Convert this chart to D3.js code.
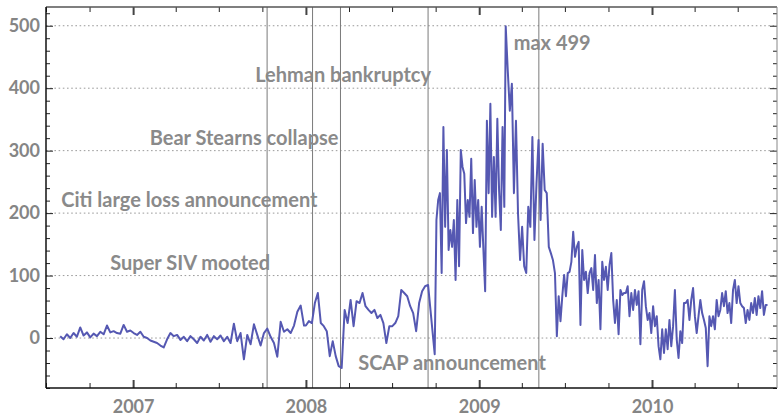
<!DOCTYPE html>
<html>
<head>
<meta charset="utf-8">
<script src="https://cdn.jsdelivr.net/npm/d3@7"></script>
<style>
  body { margin: 0; background: #fff; }
  svg text { font-family: Lato, "Open Sans", sans-serif; font-weight: bold; }
</style>
</head>
<body>
<svg id="chart"></svg>
<script>
var width = 779, height = 416;
var margin = {top: 7, right: 2, bottom: 28, left: 46};

// series, split in stretches; points are spread evenly between start and end
var segStarts = ["2006-07-31", "2008-01-01", "2008-09-29", "2009-02-26", "2009-06-14"];
var segEnds   = ["2007-12-28", "2008-09-15", "2009-02-23", "2009-06-10", "2010-09-02"];

var valsA = [3, -2, 6, 0, 8, 2, 17, 4, 9, 1, 7, 3, 10, 6, 20, 9, 11, 8, 7, 21, 10, 12,
  8, 5, 10, 2, 0, -4, -6, -8, -12, -15, -2, 8, 3, 5, -3, 2, -5, 3, -2, -8, 2, -4, 5, -6,
  3, -2, 4, -5, 2, -8, 23, -5, 8, -34, 5, -10, 22, 5, -12, 8, 15, 2, -8, -30, 26, 10,
  14, 8, 20, 42, 52, 20];
var valsB = [20, 27, 24, 56, 72, 24, 19, 11, -29, -5, -29, -45, -48, 45, 24, 61, 19, 59,
  56, 72, 51, 45, 40, 45, 32, 37, 24, -8, 19, 19, 24, 35, 77, 72, 67, 51, 40, 11, 56,
  75, 83, 85];
var valsC = [-26, 189, 221, 232, 104, 338, 178, 301, 141, 173, 146, 189, 93, 221, 115,
  301, 274, 263, 184, 221, 194, 287, 168, 253, 178, 221, 146, 210, 141, 75, 348, 232,
  375, 194, 290, 194, 351, 237, 173, 338, 210];
var valsPeak = [499, 428, 364, 407, 232, 348, 199, 125,
  178, 115, 104, 210, 178, 322, 157, 247, 317, 189, 311, 237, 232, 146, 136, 125, 104];
var valsD = [3, 67, 27, 67, 101, 67, 104, 106, 122, 170, 130, 146, 154, 21, 141, 93, 106,
  72, 104, 112, 77, 133, 56, 93, 14, 122, 93, 114, 77, 117, 136, 61, 24, 61, 6, 77, 69,
  72, 72, 83, 35, 72, 45, 77, 53, 75, -10, 77, 91, 51, 29, 40, 8, 51, 19, 35, -13, -34,
  14, -24, 14, -18, 29, -13, 19, 77, -2, -32, 11, -8, 56, 56, 61, 29, 61, 80, 35, 8,
  35, 61, 40, 29, 16, -45, 35, 19, 35, 14, 61, 35, 45, 72, 51, 75, 40, 56, 24, 77, 93,
  56, 83, 56, 51, 48, 24, 45, 29, 56, 40, 64, 37, 67, 48, 75, 37, 53, 53];

var eventNames = ["Super SIV mooted", "Citi large loss announcement", "Bear Stearns collapse",
  "Lehman bankruptcy", "SCAP announcement"];
var eventDates = ["2007-10-11", "2008-01-15", "2008-03-14", "2008-09-15", "2009-05-07"];
var eventLevels = [100, 200, 300, 400, -60];

var maxLabel = "max 499";
var yTicks = [0, 100, 200, 300, 400, 500];

var parse = d3.timeParse("%Y-%m-%d");
var segVals = [valsA, valsB, valsC, valsPeak, valsD];
var data = [];
segVals.forEach(function(vals, s) {
    var t = d3.interpolateDate(parse(segStarts[s]), parse(segEnds[s]));
    vals.forEach(function(v, i) {
        data.push({date: new Date(t(i / (vals.length - 1)).getTime()), value: v});
    });
});

var svg = d3.select("#chart").attr("width", width).attr("height", height);

var x = d3.scaleTime()
    .domain([parse("2006-07-01"), parse("2010-09-22")])
    .range([margin.left, width - margin.right]);
var y = d3.scaleLinear()
    .domain([-80, 530])
    .range([height - margin.bottom, margin.top]);

var x0 = x.range()[0], x1 = x.range()[1];
var y0 = y.range()[0], y1 = y.range()[1];

// grid
svg.append("g").selectAll("line")
    .data(yTicks).enter().append("line")
    .attr("x1", x0).attr("x2", x1)
    .attr("y1", d => y(d)).attr("y2", d => y(d))
    .attr("stroke", "#9a9a9a")
    .attr("stroke-dasharray", "1.6,2.6");

// event lines
svg.append("g").selectAll("line")
    .data(eventDates).enter().append("line")
    .attr("x1", d => x(parse(d))).attr("x2", d => x(parse(d)))
    .attr("y1", y1).attr("y2", y0)
    .attr("stroke", "#7a7a7a")
    .attr("stroke-width", 1);

// series
var line = d3.line().x(d => x(d.date)).y(d => y(d.value));
svg.append("path")
    .datum(data)
    .attr("d", line)
    .attr("fill", "none")
    .attr("stroke", "#5558b2")
    .attr("stroke-width", 2)
    .attr("stroke-linejoin", "round");

// axes
var minorY = d3.range(-80, 531, 20).filter(d => d % 100 != 0);
var quarters = d3.timeMonth.every(3).range(x.domain()[0], x.domain()[1]).filter(d => d.getMonth() != 0);
var years = d3.timeYear.range(x.domain()[0], x.domain()[1]);

function styleAxis(g) {
    g.select(".domain").remove();
    g.selectAll(".tick line").attr("stroke", "#222");
    g.selectAll(".tick text").attr("fill", "#858585").style("font-size", "18px");
}

svg.append("g").attr("transform", "translate(" + x0 + ",0)")
    .call(d3.axisLeft(y).tickValues(minorY).tickSize(-4).tickFormat("")).call(styleAxis);
svg.append("g").attr("transform", "translate(" + x0 + ",0)")
    .call(d3.axisLeft(y).tickValues(yTicks).tickSize(-7).tickPadding(6)).call(styleAxis);
svg.append("g").attr("transform", "translate(" + x1 + ",0)")
    .call(d3.axisRight(y).tickValues(minorY).tickSize(-4).tickFormat("")).call(styleAxis);
svg.append("g").attr("transform", "translate(" + x1 + ",0)")
    .call(d3.axisRight(y).tickValues(yTicks).tickSize(-7).tickFormat("")).call(styleAxis);

svg.append("g").attr("transform", "translate(0," + y0 + ")")
    .call(d3.axisBottom(x).tickValues(quarters).tickSize(-5).tickFormat("")).call(styleAxis);
svg.append("g").attr("transform", "translate(0," + y0 + ")")
    .call(d3.axisBottom(x).tickValues(years).tickSize(-8).tickPadding(12).tickFormat(d3.timeFormat("%Y")))
    .call(styleAxis)
    .call(g => g.selectAll(".tick line").attr("stroke", "#444").attr("stroke-width", 2));
svg.append("g").attr("transform", "translate(0," + y1 + ")")
    .call(d3.axisTop(x).tickValues(quarters).tickSize(-5).tickFormat("")).call(styleAxis);
svg.append("g").attr("transform", "translate(0," + y1 + ")")
    .call(d3.axisTop(x).tickValues(years).tickSize(-8).tickFormat(""))
    .call(styleAxis)
    .call(g => g.selectAll(".tick line").attr("stroke", "#444").attr("stroke-width", 2));

// frame
svg.append("line").attr("x1", x0).attr("x2", x1).attr("y1", y1).attr("y2", y1)
    .attr("stroke", "#555").attr("stroke-width", 1.5);
svg.append("line").attr("x1", x0).attr("x2", x1).attr("y1", y0).attr("y2", y0)
    .attr("stroke", "#111").attr("stroke-width", 1.5);
svg.append("line").attr("x1", x0).attr("x2", x0).attr("y1", y1).attr("y2", y0)
    .attr("stroke", "#111").attr("stroke-width", 1.5);
svg.append("line").attr("x1", x1).attr("x2", x1).attr("y1", y1).attr("y2", y0)
    .attr("stroke", "#888").attr("stroke-width", 1);

// labels
var labelDx = [3, 5, -2, 3, 7];
svg.append("g").selectAll("text")
    .data(eventNames).enter().append("text")
    .attr("x", (d, i) => x(parse(eventDates[i])) + labelDx[i])
    .attr("y", (d, i) => y(eventLevels[i]) + 1)
    .attr("text-anchor", "end")
    .attr("dy", "-0.35em")
    .attr("fill", "#8a8a8a")
    .style("font-size", "20px")
    .text(d => d);

var peak = data.reduce((a, b) => b.value > a.value ? b : a);
svg.append("text")
    .attr("x", x(peak.date) + 8)
    .attr("y", y(peak.value) + 24)
    .attr("fill", "#8a8a8a")
    .style("font-size", "20px")
    .text(maxLabel);
</script>
</body>
</html>
